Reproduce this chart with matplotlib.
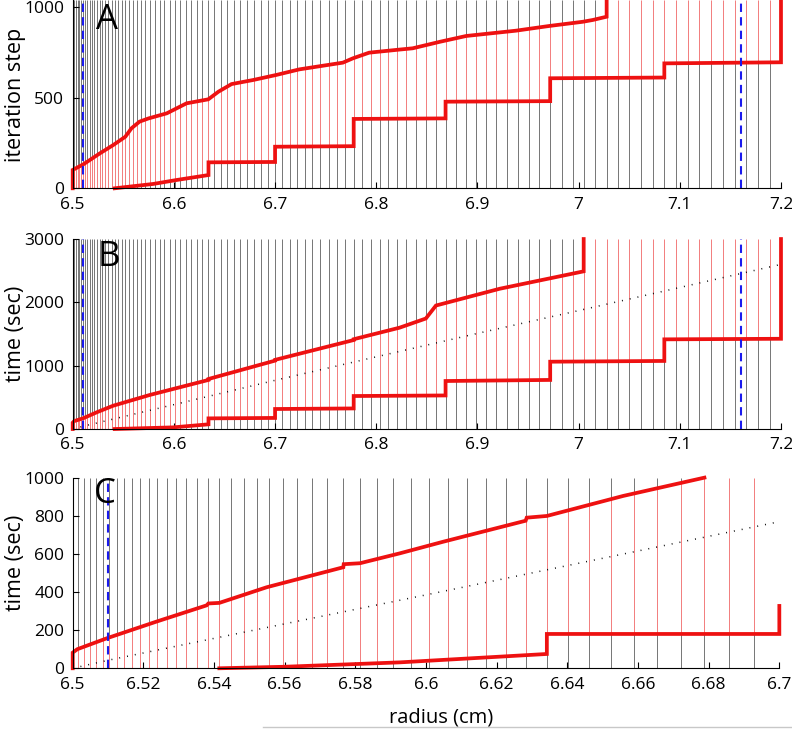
import numpy as np
import matplotlib
matplotlib.use("Agg")
import matplotlib.pyplot as plt
from matplotlib.lines import Line2D

plt.rcParams['font.family'] = ['Open Sans', 'DejaVu Sans']

# mesh node positions (cm)
nodes = [6.5000, 6.5015, 6.5031, 6.5048, 6.5066, 6.5085, 6.5104, 6.5125, 6.5146,
         6.5168, 6.5191, 6.5215, 6.5239, 6.5266, 6.5292, 6.5321, 6.5351, 6.5384,
         6.5415, 6.5449, 6.5485, 6.5521, 6.5556, 6.5594, 6.5634, 6.5676, 6.5719,
         6.5766, 6.5813, 6.5860, 6.5907, 6.5958, 6.6009, 6.6061, 6.6115, 6.6170,
         6.6226, 6.6282, 6.6342, 6.6401, 6.6462, 6.6524, 6.6590, 6.6655, 6.6721,
         6.6788, 6.6858, 6.6929, 6.7000, 6.7072, 6.7145, 6.7218, 6.7291, 6.7365,
         6.7448, 6.7530, 6.7612, 6.7695, 6.7777, 6.7863, 6.7945, 6.8034, 6.8115,
         6.8204, 6.8297, 6.8396, 6.8488, 6.8586, 6.8685, 6.8784, 6.8883, 6.8981,
         6.9080, 6.9186, 6.9290, 6.9399, 6.9507, 6.9613, 6.9719, 6.9833, 6.9942,
         7.0050, 7.0166, 7.0277, 7.0386, 7.0501, 7.0617, 7.0731, 7.0847, 7.0962,
         7.1077, 7.1193, 7.1309, 7.1425, 7.1542, 7.1659, 7.1776, 7.1888, 7.2000]

# panel A (iteration step)
a_up_r = [6.5, 6.5, 6.5105, 6.527, 6.540, 6.552, 6.558, 6.566, 6.575, 6.593, 6.6125,
          6.634, 6.644, 6.657, 6.678, 6.701, 6.724, 6.767, 6.777, 6.793, 6.823, 6.836,
          6.863, 6.889, 6.938, 6.971, 7.004, 7.014, 7.0277, 7.0277]
a_up_v = [0, 101, 132, 193, 238, 284, 330, 367, 385, 413, 468,
          490, 532, 574, 596, 624, 655, 692, 716, 747, 764, 771,
          807, 839, 868, 894, 917, 927, 945, 1040]
a_lo_r = [6.5415, 6.5796, 6.603, 6.6342, 6.6342, 6.70, 6.70, 6.7777, 6.7777, 6.8685,
          6.8685, 6.9719, 6.9719, 7.0847, 7.0847, 7.2, 7.2]
a_lo_v = [0, 24, 46, 73, 143, 145, 229, 232, 382, 385,
          477, 480, 606, 610, 688, 694, 1040]

# panel B (time)
b_up_r = [6.5, 6.5, 6.5015, 6.5104, 6.5239, 6.540, 6.576, 6.6342, 6.6342, 6.70, 6.70,
          6.7777, 6.7777, 6.823, 6.849, 6.859, 6.922, 7.005, 7.005]
b_up_v = [0, 100, 125, 170, 265, 368, 537, 775, 790, 1080, 1092,
          1405, 1418, 1600, 1745, 1950, 2215, 2490, 3000]
b_lo_r = [6.5415, 6.5993, 6.6342, 6.6342, 6.70, 6.70, 6.7777, 6.7777, 6.8685, 6.8685,
          6.9719, 6.9719, 7.0847, 7.0847, 7.2, 7.2]
b_lo_v = [0, 26, 74, 168, 175, 316, 325, 521, 530, 758,
          775, 1063, 1075, 1416, 1425, 3000]
b_dot_r = [6.5, 6.51, 6.55, 6.6, 6.7, 6.8, 6.9, 7.0, 7.1, 7.2]
b_dot_v = [0, 42, 195, 385, 769, 1140, 1510, 1870, 2235, 2600]

# panel C (time, zoomed)
c_up_r = [6.5, 6.5, 6.5013, 6.5096, 6.5239, 6.5379, 6.5384, 6.5415, 6.5549, 6.5766,
          6.5767, 6.5813, 6.5926, 6.6049, 6.6282, 6.6285, 6.6342, 6.6558, 6.6788]
c_up_v = [0, 82, 100, 157, 246, 330, 340, 343, 425, 530,
          546, 551, 603, 664, 774, 790, 799, 904, 1000]
c_lo_r = [6.5415, 6.56, 6.5926, 6.6342, 6.6342, 6.70, 6.70]
c_lo_v = [0, 8, 31, 75, 180, 180, 327]
c_dot_r = [6.5, 6.51, 6.55, 6.6, 6.65, 6.7]
c_dot_v = [0, 42, 195, 385, 577, 769]

blue_ab = [6.5102, 7.1600]
blue_c = [6.5101]

a_xticks = [6.5, 6.6, 6.7, 6.8, 6.9, 7.0, 7.1, 7.2]
a_xlabels = ['6.5', '6.6', '6.7', '6.8', '6.9', '7', '7.1', '7.2']
c_xticks = [6.5, 6.52, 6.54, 6.56, 6.58, 6.6, 6.62, 6.64, 6.66, 6.68, 6.7]
c_xlabels = ['6.5', '6.52', '6.54', '6.56', '6.58', '6.6', '6.62', '6.64', '6.66', '6.68', '6.7']

fig = plt.figure(figsize=(7.92, 7.29), dpi=100)


def panel(rect, xlim, ylim, up_r, up_v, lo_r, lo_v, blue, xt, xl, yt, dot_r=None, dot_v=None):
    ax = fig.add_axes(rect)
    top = ylim[1]
    x = np.array([n for n in nodes if xlim[0] - 1e-9 <= n <= xlim[1] + 1e-9])
    ur, uv = np.array(up_r), np.minimum(np.array(up_v), top)
    lr, lv = np.array(lo_r), np.array(lo_v)
    upper = np.where(x >= ur[-1], top, np.interp(x, ur, uv))
    lower = np.where(x < lr[0], 0, np.interp(x, lr, lv))
    ax.vlines(x, 0, lower, color='#757575', lw=0.7, zorder=1)
    ax.vlines(x, upper, top, color='#757575', lw=0.7, zorder=1)
    ax.vlines(x, lower, upper, color='#f27c7c', lw=0.7, zorder=1)
    if dot_r is not None:
        ax.plot(dot_r, dot_v, color='k', lw=1.1, ls=(0, (0.6, 4.6)), zorder=2)
    ax.plot(up_r, up_v, color='#ee1111', lw=2.7, zorder=3, clip_on=False,
            solid_joinstyle='miter')
    ax.plot(lo_r, lo_v, color='#ee1111', lw=2.7, zorder=3, clip_on=False,
            solid_joinstyle='miter')
    for b in blue:
        ax.plot([b, b], [0, top], color='#1a1aee', lw=1.5, ls=(0, (4, 2.5)), zorder=4)
    ax.set_xlim(xlim)
    ax.set_ylim(ylim)
    ax.set_xticks(xt)
    ax.set_xticklabels(xl)
    ax.set_yticks(yt)
    ax.set_yticklabels([str(v) for v in yt])
    ax.spines['top'].set_visible(False)
    ax.spines['right'].set_visible(False)
    for s in ['left', 'bottom']:
        ax.spines[s].set_linewidth(0.8)
        ax.spines[s].set_zorder(5)
    ax.tick_params(direction='in', length=4, width=0.8, labelsize=12.5, pad=6)
    return ax


panel([0.0918, 0.7417, 0.8943, 0.2583], (6.5, 7.2), (0, 1037),
      a_up_r, a_up_v, a_lo_r, a_lo_v, blue_ab, a_xticks, a_xlabels, [0, 500, 1000])
panel([0.0918, 0.4115, 0.8943, 0.2606], (6.5, 7.2), (0, 3000),
      b_up_r, b_up_v, b_lo_r, b_lo_v, blue_ab, a_xticks, a_xlabels, [0, 1000, 2000, 3000],
      b_dot_r, b_dot_v)
panel([0.0918, 0.0833, 0.8922, 0.2615], (6.5, 6.7), (0, 1000),
      c_up_r, c_up_v, c_lo_r, c_lo_v, blue_c, c_xticks, c_xlabels,
      [0, 200, 400, 600, 800, 1000], c_dot_r, c_dot_v)

fig.text(0.1357, 0.9726, 'A', fontsize=25, ha='center', va='center', zorder=10)
fig.text(0.1376, 0.6468, 'B', fontsize=25, ha='center', va='center', zorder=10)
fig.text(0.1326, 0.3230, 'C', fontsize=25, ha='center', va='center', zorder=10)

fig.text(0.019, 0.8697, 'iteration step', fontsize=15.5, rotation=90, ha='center', va='center')
fig.text(0.019, 0.5418, 'time (sec)', fontsize=15.5, rotation=90, ha='center', va='center')
fig.text(0.019, 0.2277, 'time (sec)', fontsize=15.5, rotation=90, ha='center', va='center')
fig.text(0.557, 0.016, 'radius (cm)', fontsize=14.5, ha='center', va='center')

fig.add_artist(Line2D([0.332, 1.0], [0.0027, 0.0027], color='#c8c8c8', lw=1))

fig.savefig('out.png', dpi=100)
